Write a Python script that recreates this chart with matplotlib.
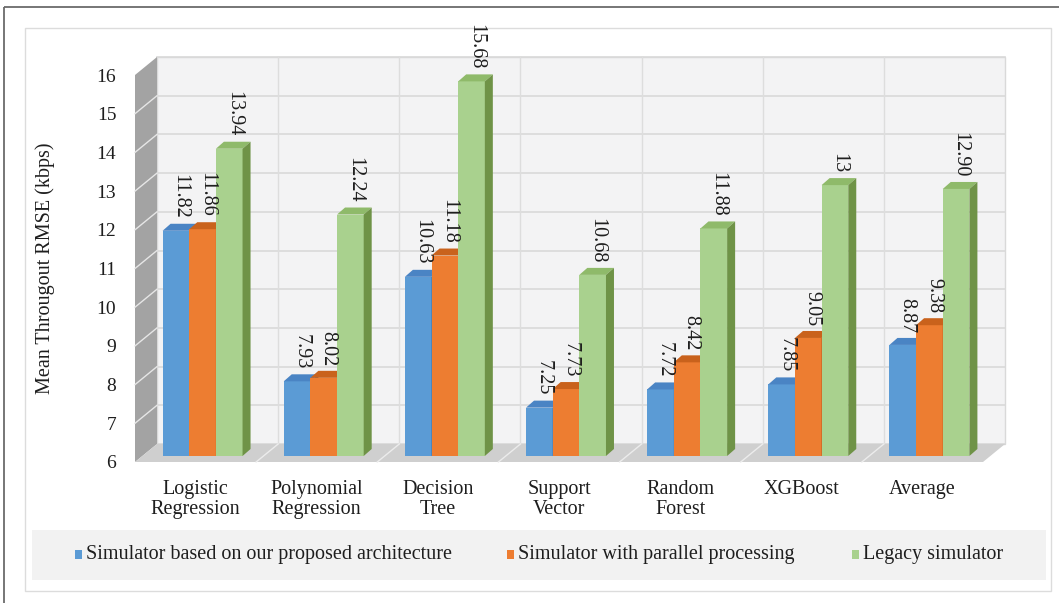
import matplotlib
matplotlib.use("Agg")
import matplotlib.pyplot as plt
from matplotlib.patches import Polygon, Rectangle
from matplotlib.transforms import ScaledTranslation

plt.rcParams["font.family"] = ["Liberation Serif", "DejaVu Serif"]

# ---- data -------------------------------------------------------------
categories = ["Logistic\nRegression", "Polynomial\nRegression", "Decision\nTree",
              "Support\nVector", "Random\nForest", "XGBoost", "Average"]
series_names = ["Simulator based on our proposed architecture",
                "Simulator with parallel processing",
                "Legacy simulator"]
proposed = [11.82, 7.93, 10.63, 7.25, 7.72, 7.85, 8.87]
parallel = [11.86, 8.02, 11.18, 7.73, 8.42, 9.05, 9.38]
legacy = [13.94, 12.24, 15.68, 10.68, 11.88, 13.00, 12.90]
proposed_labels = ["11.82", "7.93", "10.63", "7.25", "7.72", "7.85", "8.87"]
parallel_labels = ["11.86", "8.02", "11.18", "7.73", "8.42", "9.05", "9.38"]
legacy_labels = ["13.94", "12.24", "15.68", "10.68", "11.88", "13", "12.90"]
yticks = [6, 7, 8, 9, 10, 11, 12, 13, 14, 15, 16]
y_title = "Mean Througout RMSE (kbps)"

series = [proposed, parallel, legacy]
labels = [proposed_labels, parallel_labels, legacy_labels]
face_colors = ["#5b9bd5", "#ed7d31", "#a9d18e"]
top_colors = ["#4a84c4", "#c9621c", "#8fba6a"]
side_colors = ["#3d6fa3", "#b0561a", "#6f9347"]
text_color = "#1e1e1e"

# ---- figure -----------------------------------------------------------
W, H = 1059, 603
fig = plt.figure(figsize=(W / 100, H / 100), dpi=100)

# pixel-space backdrop: frame, panel, legend strip
bg = fig.add_axes([0, 0, 1, 1])
bg.set_xlim(0, W)
bg.set_ylim(H, 0)
bg.axis("off")
bg.add_patch(Rectangle((4, 7), 1080, 620, fill=False, ec="#6b6b6b", lw=1.3))
bg.add_patch(Rectangle((25, 28), 1026, 563, fc="white", ec="#dcdcdc", lw=1.0))
bg.add_patch(Rectangle((32, 530), 1014, 50, fc="#f2f2f2", ec="none"))

# front plane of the 3-D box
left_px, right_px, y6_px, y16_px = 135, 983, 462, 75
ax = fig.add_axes([left_px / W, (H - y6_px) / H,
                   (right_px - left_px) / W, (y6_px - y16_px) / H])
ncat = len(categories)
ymin, ymax = yticks[0], yticks[-1]
ax.set_xlim(0, ncat)
ax.set_ylim(ymin, ymax)
ax.patch.set_alpha(0)
for s in ax.spines.values():
    s.set_visible(False)

sx = ncat / (right_px - left_px)      # data units per pixel (x)
sy = (ymax - ymin) / (y6_px - y16_px)  # data units per pixel (y)

# box depth
wdx, wdy = 22 * sx, 18 * sy

# back wall with grid
ax.add_patch(Polygon([(wdx, ymin + wdy), (ncat + wdx, ymin + wdy),
                      (ncat + wdx, ymax + wdy), (wdx, ymax + wdy)],
                     closed=True, fc="#f3f3f4", ec="#d9d9d9", lw=1.0,
                     zorder=1, clip_on=False))
for v in yticks:
    ax.plot([wdx, ncat + wdx], [v + wdy, v + wdy], color="#d9d9d9", lw=1.2,
            zorder=1.5, clip_on=False)
for i in range(1, ncat):
    ax.plot([i + wdx, i + wdx], [ymin + wdy, ymax + wdy], color="#dddddd",
            lw=1.0, zorder=1.5, clip_on=False)

# left side wall
ax.add_patch(Polygon([(0, ymin), (wdx, ymin + wdy), (wdx, ymax + wdy), (0, ymax)],
                     closed=True, fc="#a3a3a3", ec="none", zorder=2, clip_on=False))
for v in yticks[1:-1]:
    ax.plot([0, wdx], [v, v + wdy], color="#e6e6e6", lw=1.0, zorder=2.1,
            clip_on=False)

# floor
ax.add_patch(Polygon([(0, ymin), (ncat, ymin), (ncat + wdx, ymin + wdy),
                      (wdx, ymin + wdy)],
                     closed=True, fc="#cfcfcf", ec="none", zorder=2, clip_on=False))
for i in range(1, ncat):
    ax.plot([i, i + wdx], [ymin, ymin + wdy], color="#ececec", lw=1.0,
            zorder=2.1, clip_on=False)

# bars sit one third into the box depth
offset = ScaledTranslation(7 / 100, 6 / 100, fig.dpi_scale_trans)
btr = ax.transData + offset
bw = 0.22
bdx, bdy = 8 * sx, 7 * sy

z = 3
for i in range(ncat):
    for j, vals in enumerate(series):
        v = vals[i]
        xc = i + 0.5 + (j - 1) * bw
        x0, x1 = xc - bw / 2, xc + bw / 2
        ax.bar([xc], [v - ymin], bottom=ymin, width=bw, color=face_colors[j],
               edgecolor="none", transform=btr, zorder=z, clip_on=False)
        ax.add_patch(Polygon([(x0, v), (x1, v), (x1 + bdx, v + bdy), (x0 + bdx, v + bdy)],
                             closed=True, fc=top_colors[j], ec="none",
                             transform=btr, zorder=z, clip_on=False))
        ax.add_patch(Polygon([(x1, ymin), (x1 + bdx, ymin + bdy),
                              (x1 + bdx, v + bdy), (x1, v)],
                             closed=True, fc=side_colors[j], ec="none",
                             transform=btr, zorder=z, clip_on=False))
        ax.text(xc + bdx / 2, v + bdy + 5 * sy, labels[j][i], rotation=270,
                ha="center", va="bottom", fontsize=14.5, color=text_color,
                transform=btr, zorder=20, clip_on=False)
        z += 0.1

# axes text
ax.set_yticks(yticks)
ax.set_yticklabels([str(t) for t in yticks])
ax.tick_params(axis="y", length=0, pad=13.5, labelsize=14, labelcolor=text_color)
ax.set_xticks([i + 0.5 for i in range(ncat)])
ax.set_xticklabels(categories, linespacing=1.1)
ax.tick_params(axis="x", length=0, pad=13, labelsize=14.5, labelcolor=text_color)

fig.text(45 / W, 1 - 268 / H, y_title, rotation=90, ha="center", va="center",
         fontsize=14.5, color=text_color)

# legend
legend_x = [75, 507, 852]
for j, name in enumerate(series_names):
    bg.add_patch(Rectangle((legend_x[j], 550), 7, 9, fc=face_colors[j], ec="none"))
    bg.text(legend_x[j] + 11, 555, name, ha="left", va="center",
            fontsize=14.5, color=text_color)

fig.savefig("out.png", dpi=100, facecolor="white")
